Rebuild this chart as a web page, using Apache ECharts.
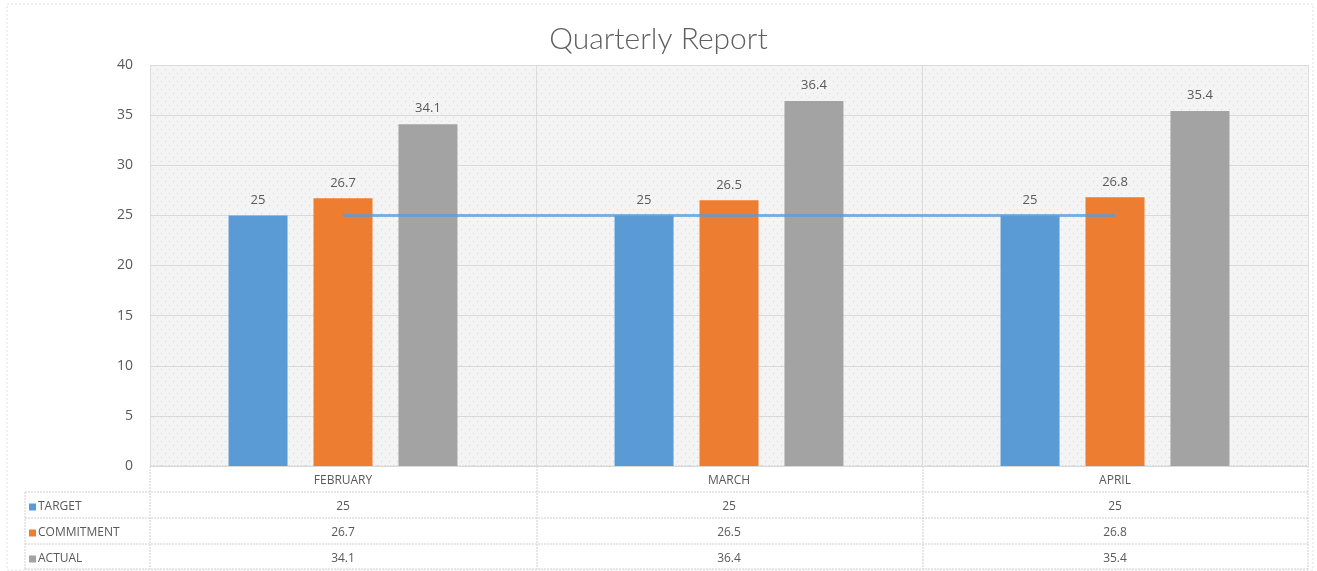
<!DOCTYPE html>
<html>
<head>
<meta charset="utf-8">
<script src="https://cdn.jsdelivr.net/npm/echarts@6/dist/echarts.min.js"></script>
<style>
  html, body { margin: 0; padding: 0; background: #fff; }
  #chart { width: 1317px; height: 571px; }
</style>
</head>
<body>
<div id="chart"></div>
<script>
// 数据
var months = ["FEBRUARY", "MARCH", "APRIL"];
var seriesNames = ["TARGET", "COMMITMENT", "ACTUAL"];
var target = [25, 25, 25];
var commitment = [26.7, 26.5, 26.8];
var actual = [34.1, 36.4, 35.4];
var yTicks = { min: 0, max: 40, interval: 5 };

var textColor = "#595959";
var lineColor = "#cfcfcf";

// 绘图区的点状底纹
var dots = document.createElement("canvas");
dots.width = 8;
dots.height = 8;
var ctx = dots.getContext("2d");
ctx.fillStyle = "#f4f4f4";
ctx.fillRect(0, 0, 8, 8);
ctx.fillStyle = "#d6d6d6";
ctx.fillRect(1, 1, 1, 1);
ctx.fillRect(5, 5, 1, 1);

// 表格的每一行用一根额外的 x 轴来画
function tableRow(values, offset) {
  return {
    type: "category",
    data: values,
    position: "bottom",
    offset: offset,
    axisLine: { show: false },
    axisTick: { show: false },
    axisLabel: { margin: 9, color: textColor, fontSize: 12, fontFamily: "Open Sans" },
    splitLine: { show: false },
  };
}

// 表格左边的图例，一行一个
function rowLegend(name, top) {
  return {
    data: [name],
    orient: "vertical",
    left: 29,
    top: top,
    padding: 0,
    itemWidth: 7,
    itemHeight: 7,
    icon: "rect",
    selectedMode: false,
    textStyle: { color: textColor, fontSize: 12, fontFamily: "Open Sans", padding: [0, 0, 0, -3] },
  };
}

// 表格的线
var L = 25, G = 150, R = 1308;
var rows = [466, 492, 518, 544, 569];
var cols = [G, 537, 923, R];
var tableLines = [];
rows.forEach(function (y, i) {
  tableLines.push({
    type: "line",
    shape: { x1: i === 0 ? G : L, y1: y, x2: R, y2: y },
    style: { stroke: lineColor, lineWidth: 1, lineDash: [2, 1] },
  });
});
cols.forEach(function (x) {
  tableLines.push({
    type: "line",
    shape: { x1: x, y1: 466, x2: x, y2: 569 },
    style: { stroke: lineColor, lineWidth: 1, lineDash: [2, 1] },
  });
});
tableLines.push({
  type: "line",
  shape: { x1: L, y1: 492, x2: L, y2: 569 },
  style: { stroke: lineColor, lineWidth: 1, lineDash: [2, 1] },
});
// 外框
tableLines.push({
  type: "rect",
  shape: { x: 7, y: 4, width: 1306, height: 566 },
  style: { fill: null, stroke: "#e0e0e0", lineWidth: 1, lineDash: [2, 2] },
  z: -1,
});

var barLabel = { show: true, position: "top", distance: 9, color: textColor, fontSize: 13, fontFamily: "Open Sans" };

var myChart = echarts.init(document.getElementById("chart"));
myChart.setOption({
  animation: false,
  title: {
    text: "Quarterly Report",
    left: "center",
    top: 19,
    textStyle: { color: "#5f5f5f", fontSize: 30, fontWeight: 300, fontFamily: "Lato" },
  },
  legend: [
    rowLegend(seriesNames[0], 501),
    rowLegend(seriesNames[1], 527),
    rowLegend(seriesNames[2], 553),
  ],
  grid: {
    left: 150,
    right: 9,
    top: 65,
    bottom: 105,
    show: true,
    backgroundColor: { image: dots, repeat: "repeat" },
    borderWidth: 0,
  },
  xAxis: [
    {
      type: "category",
      data: months,
      axisLine: { show: false },
      axisTick: { show: false },
      axisLabel: { margin: 9, color: textColor, fontSize: 12, fontFamily: "Open Sans" },
      splitLine: { show: true, lineStyle: { color: "#dcdcdc" } },
    },
    tableRow(target, 26),
    tableRow(commitment, 52),
    tableRow(actual, 78),
  ],
  yAxis: {
    type: "value",
    min: yTicks.min,
    max: yTicks.max,
    interval: yTicks.interval,
    axisLine: { show: false },
    axisTick: { show: false },
    axisLabel: { color: textColor, fontSize: 14, margin: 17, fontFamily: "Open Sans" },
    splitLine: { lineStyle: { color: "#d9d9d9" } },
  },
  series: [
    {
      name: seriesNames[0],
      type: "bar",
      data: target,
      barWidth: 59,
      barGap: "44%",
      itemStyle: { color: "#5b9bd5" },
      label: barLabel,
    },
    {
      name: seriesNames[1],
      type: "bar",
      data: commitment,
      barWidth: 59,
      itemStyle: { color: "#ed7d31" },
      label: barLabel,
    },
    {
      name: seriesNames[2],
      type: "bar",
      data: actual,
      barWidth: 59,
      itemStyle: { color: "#a3a3a3" },
      label: barLabel,
    },
    {
      name: "TARGET LINE",
      type: "line",
      data: target,
      symbol: "none",
      z: 5,
      lineStyle: { color: "#5b9bd5", width: 3, opacity: 0.75 },
    },
  ],
  graphic: tableLines,
});
</script>
</body>
</html>
